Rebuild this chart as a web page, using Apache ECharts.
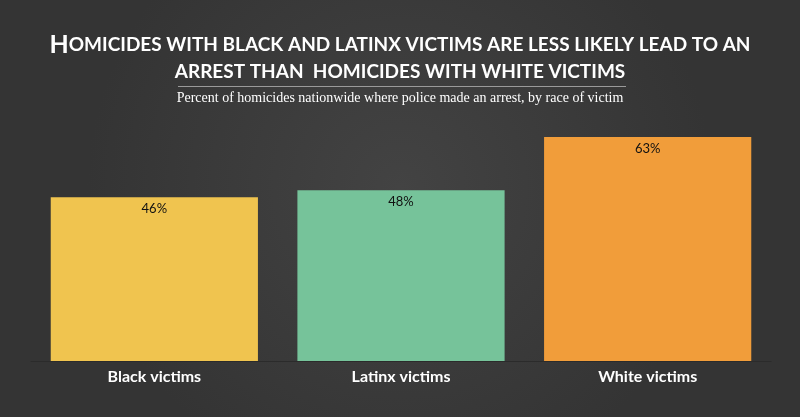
<!DOCTYPE html>
<html lang="en">
<head>
    <meta charset="UTF-8">
    <title>homicide arrests by race</title>
    <script type="text/javascript" src="https://cdn.jsdelivr.net/npm/echarts@6/dist/echarts.min.js"></script>
    <style>
        html, body { margin: 0; padding: 0; background: #3a3a3a; }
    </style>
</head>
<body>
  <div id="main" style="width: 800px;height: 417px;"></div>
</body>
<script>
    // data
    var categories = ['Black victims', 'Latinx victims', 'White victims'];
    var arrestPct = [46, 48, 63];
    var barColors = ['#F0C44F', '#76C39A', '#F19D3A'];

    var titleLine1 = 'OMICIDES WITH BLACK AND LATINX VICTIMS ARE LESS LIKELY LEAD TO AN';
    var titleLine2 = 'ARREST THAN  HOMICIDES WITH WHITE VICTIMS';
    var subTitle = 'Percent of homicides nationwide where police made an arrest, by race of victim';

    var myChart = echarts.init(document.getElementById('main'));

    var option = {
        backgroundColor: {
            type: 'radial', x: 0.5, y: 0.45, r: 0.75,
            colorStops: [{offset: 0, color: '#434343'}, {offset: 1, color: '#343434'}]
        },
        graphic: [{
            type: 'text',
            x: 400, y: 32,
            style: {
                text: '{b|H}{s|' + titleLine1 + '}',
                align: 'center',
                fill: '#fff',
                rich: {
                    b: {fontFamily: 'Lato', fontWeight: 'bold', fontSize: 25, fill: '#fff'},
                    s: {fontFamily: 'Lato', fontWeight: 'bold', fontSize: 19, fill: '#fff'}
                }
            }
        }, {
            type: 'text',
            x: 400, y: 62,
            style: {
                text: titleLine2,
                align: 'center',
                fill: '#fff',
                font: 'bold 19px Lato'
            }
        }, {
            type: 'line',
            shape: {x1: 178, y1: 86.5, x2: 626, y2: 86.5},
            style: {stroke: '#9a9a9a', lineWidth: 1}
        }, {
            type: 'text',
            x: 400, y: 91,
            style: {
                text: subTitle,
                align: 'center',
                fill: '#fff',
                font: '14px "Liberation Serif"'
            }
        }],
        grid: {left: 31, right: 29, top: 112, bottom: 56},
        xAxis: {
            type: 'category',
            data: categories,
            axisTick: {show: false},
            axisLine: {lineStyle: {color: '#2b2b2b', width: 1}},
            axisLabel: {
                color: '#fff',
                fontFamily: 'Lato',
                fontWeight: 'bold',
                fontSize: 16,
                margin: 8
            }
        },
        yAxis: {
            type: 'value',
            min: 0,
            max: 70,
            show: false
        },
        series: [{
            type: 'bar',
            barCategoryGap: '16%',
            data: arrestPct.map(function (v, i) {
                return {value: v, itemStyle: {color: barColors[i]}};
            }),
            label: {
                show: true,
                position: 'insideTop',
                distance: 5,
                color: '#111',
                fontFamily: 'Lato',
                fontSize: 13,
                formatter: '{c}%'
            }
        }]
    };

    myChart.setOption(option);
</script>
</html>
